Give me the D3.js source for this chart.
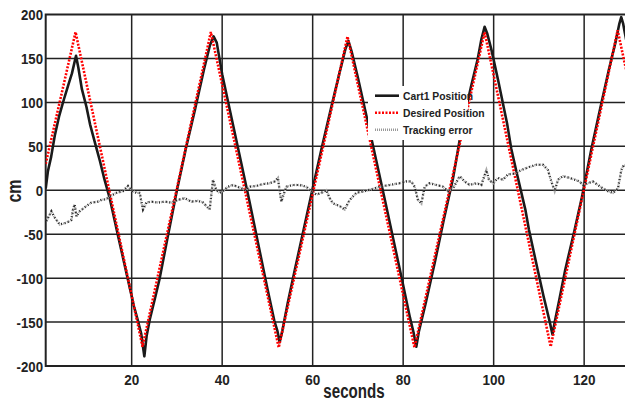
<!DOCTYPE html>
<html>
<head>
<meta charset="utf-8">
<script src="https://cdn.jsdelivr.net/npm/d3@7"></script>
<style>
  body { margin: 0; background: #fff; }
  svg { display: block; }
</style>
</head>
<body>
<div id="chart"></div>
<script>
  'use strict';

  const FONT_FAMILY = 'Liberation Sans, Arial, sans-serif';
  const WIDTH = 625;
  const HEIGHT = 405;

  // Desired position (triangle reference), read at its corners.
  const desiredTime = [1.0, 7.6, 22.4, 37.5, 52.5, 67.7, 82.5, 98.0, 112.6, 127.4, 128.9, 129.6];
  const desiredPos = [30, 180, -178, 180, -179, 175, -179, 180, -178, 182, 146, 130];

  // Cart1 position.
  const cartTime = [1.0, 1.5, 2.2, 3.0, 4.0, 5.0, 6.0, 6.8, 7.7, 8.2, 9.0, 10.0, 10.8, 12.0, 13.0, 14.0, 15.1,
    17.0, 19.1, 20.5, 21.3, 22.1, 22.8, 23.3, 24.0, 25.1, 26.2, 28.0, 30.0, 32.0, 34.0, 36.0, 37.3, 38.1,
    38.8, 40.0, 42.0, 44.0, 46.0, 48.0, 50.0, 51.5, 52.2, 52.7,
    53.3, 54.5, 56.0, 58.0, 60.0, 62.0, 64.0, 66.0, 67.2, 67.9,
    68.6, 70.0, 72.0, 74.0, 76.0, 78.0, 80.0, 81.5, 82.3, 82.9,
    83.5, 85.0, 87.0, 89.0, 91.0, 93.0, 95.0, 96.5, 97.3, 98.0,
    98.6, 99.5, 101.0, 103.0, 103.9, 105.0, 107.0, 107.8, 109.7, 111.0, 112.4, 113.0,
    113.5, 114.5, 115.8, 117.9, 119.5, 121.6, 123.5, 125.5, 127.0, 127.8, 128.2, 128.6, 129.0, 129.6];
  const cartPos = [2, 22, 38, 62, 85, 103, 120, 133, 153, 140, 115, 95, 75, 52, 33, 12, -8,
    -52, -100, -132, -147, -163, -189, -166, -147, -124, -100, -52, 0, 48, 92, 138, 165, 175,
    168, 132, 84, 36, -12, -62, -112, -148, -160, -173,
    -160, -128, -92, -45, 2, 48, 92, 135, 160, 170,
    158, 128, 82, 35, -12, -60, -108, -145, -162, -178,
    -160, -128, -82, -33, 13, 72, 118, 150, 172, 186,
    178, 160, 125, 75, 47, 22, -22, -45, -90, -120, -150, -164,
    -150, -125, -91, -45, -8, 47, 92, 138, 170, 190, 197, 190, 179, 163];

  // Tracking error.
  const errTime = [1.15, 2.25, 2.98, 4.09, 5.57, 6.67, 7.03, 7.40, 7.78, 8.51, 9.99, 11.09, 12.55, 13.30,
    14.41, 15.14, 16.62, 18.08, 19.18, 19.93, 21.04, 21.77, 22.50, 23.25, 24.35, 25.81, 27.29, 28.77,
    30.23, 31.71, 33.19, 34.65, 35.76, 36.51, 37.24, 37.97, 38.72, 39.45, 40.18, 41.28, 42.39, 43.87,
    45.35, 46.08, 47.56, 49.02, 50.50, 51.60, 52.33, 52.71, 53.08, 53.44, 54.19, 55.65, 57.13, 58.61,
    59.71, 60.82, 61.92, 63.03, 63.76, 64.49, 65.97, 67.07, 68.18, 69.66, 71.49, 72.97, 74.81, 77.02,
    79.23, 80.71, 81.81, 82.54, 83.27, 84.02, 84.75, 85.86, 87.34, 88.80, 89.90, 91.01, 92.49, 93.59,
    94.70, 96.18, 97.28, 98.39, 98.96, 99.85, 100.95, 102.06, 103.16, 104.64, 106.12, 107.58, 109.44,
    110.90, 112.00, 112.75, 113.48, 114.21, 115.31, 116.80, 117.90, 119.01, 119.73, 120.84, 121.94,
    123.05, 124.15, 125.26, 126.37, 127.47, 128.22, 128.80, 129.6];
  const errVal = [-35, -24, -31, -39, -37, -34, -22, -16, -30, -24, -18, -14, -13, -11,
    -10, -7, -3, -1, 5, 0, -3, -3, -22, -14, -13, -14, -13, -14,
    -11, -9, -13, -12, -14, -18, -22, 12, 0, -3, -1, 4, 6, 3,
    0, 4, 5, 7, 8, 10, 14, -1, -13, -7, 4, 6, 6, 4,
    -1, -5, -3, 0, -9, -15, -18, -22, -11, -3, -1, 1, 4, 6,
    8, 10, 10, 4, -11, -15, 4, 8, 6, 4, -1, 2, 16, 10,
    6, 8, 6, 23, 12, 8, 14, 12, 18, 19, 23, 26, 29,
    29, 23, 10, -1, 12, 16, 14, 12, 10, 6, 8, 10,
    6, 2, -1, -3, 2, 23, 29, 27];

  const xTicks = [20, 40, 60, 80, 100, 120];
  const yTicks = [-200, -150, -100, -50, 0, 50, 100, 150, 200];

  const legendLabels = ['Cart1 Position', 'Desired Position', 'Tracking error'];

  let margin = {top: 14.5, left: 45.7, bottom: 39};
  let plotRight = 629.4;

  let svg = d3.select('#chart')
    .append('svg')
    .attr('width', WIDTH)
    .attr('height', HEIGHT)
    .style('font-family', FONT_FAMILY);

  svg.append('rect')
    .attr('width', WIDTH)
    .attr('height', HEIGHT)
    .attr('fill', '#fff');

  let x = d3.scaleLinear()
    .domain([1, 130])
    .range([margin.left, plotRight]);

  let y = d3.scaleLinear()
    .domain([-200, 200])
    .range([HEIGHT - margin.bottom, margin.top]);

  svg.append('clipPath')
    .attr('id', 'plot-clip')
    .append('rect')
    .attr('x', x(1))
    .attr('y', y(200))
    .attr('width', plotRight - x(1))
    .attr('height', y(-200) - y(200));

  // Grid lines.
  let grid = svg.append('g')
    .attr('stroke', '#222')
    .attr('stroke-width', 1.5);

  grid.selectAll('line.vgrid')
    .data(xTicks)
    .enter()
    .append('line')
    .attr('x1', d => x(d))
    .attr('x2', d => x(d))
    .attr('y1', y(200))
    .attr('y2', y(-200));

  grid.selectAll('line.hgrid')
    .data(yTicks.filter(d => Math.abs(d) < 200))
    .enter()
    .append('line')
    .attr('x1', x(1))
    .attr('x2', plotRight)
    .attr('y1', d => y(d))
    .attr('y2', d => y(d));

  // Frame.
  svg.append('rect')
    .attr('x', x(1))
    .attr('y', y(200))
    .attr('width', plotRight - x(1))
    .attr('height', y(-200) - y(200))
    .attr('fill', 'none')
    .attr('stroke', '#222')
    .attr('stroke-width', 2);

  // Tick labels.
  svg.selectAll('text.ytick')
    .data(yTicks)
    .enter()
    .append('text')
    .attr('transform', d => 'translate(43,' + (y(d) + 5.5) + ') scale(0.88,1)')
    .attr('text-anchor', 'end')
    .style('font-size', '15px')
    .style('font-weight', 'bold')
    .attr('fill', '#222')
    .text(d => d);

  svg.selectAll('text.xtick')
    .data(xTicks)
    .enter()
    .append('text')
    .attr('transform', d => 'translate(' + x(d) + ',385) scale(0.9,1)')
    .attr('text-anchor', 'middle')
    .style('font-size', '15px')
    .style('font-weight', 'bold')
    .attr('fill', '#222')
    .text(d => d);

  // Axis titles.
  svg.append('text')
    .attr('transform', 'translate(354,398) scale(0.72,1)')
    .attr('text-anchor', 'middle')
    .style('font-size', '21px')
    .style('font-weight', 'bold')
    .attr('fill', '#222')
    .text('seconds');

  svg.append('text')
    .attr('transform', 'translate(21,191) rotate(-90) scale(0.8,1)')
    .attr('text-anchor', 'middle')
    .style('font-size', '20px')
    .style('font-weight', 'bold')
    .attr('fill', '#222')
    .text('cm');

  // Lines.
  let plot = svg.append('g')
    .attr('clip-path', 'url(#plot-clip)');

  let line = d3.line()
    .x(d => x(d[0]))
    .y(d => y(d[1]));

  plot.append('path')
    .datum(d3.zip(cartTime, cartPos))
    .attr('d', line)
    .attr('fill', 'none')
    .attr('stroke', '#1a1a1a')
    .attr('stroke-width', 2.6)
    .attr('stroke-linejoin', 'round');

  plot.append('path')
    .datum(d3.zip(desiredTime, desiredPos))
    .attr('d', line)
    .attr('fill', 'none')
    .attr('stroke', '#f00')
    .attr('stroke-width', 2.6)
    .attr('stroke-dasharray', '2,1.5');

  // Tracking error: grey base with dark dots on top.
  let errData = d3.zip(errTime, errVal);
  plot.append('path')
    .datum(errData)
    .attr('d', line)
    .attr('fill', 'none')
    .attr('stroke', '#aaa')
    .attr('stroke-width', 2.4)
    .attr('stroke-dasharray', '1,1');

  plot.append('path')
    .datum(errData)
    .attr('d', line)
    .attr('fill', 'none')
    .attr('stroke', '#222')
    .attr('stroke-width', 2.2)
    .attr('stroke-dasharray', '1,2.5');

  // Legend.
  let legend = svg.append('g');

  legend.append('rect')
    .attr('x', 368)
    .attr('y', 86)
    .attr('width', 100)
    .attr('height', 54)
    .attr('fill', '#fff');

  let legendStyles = [
    {stroke: '#1a1a1a', dash: null},
    {stroke: '#f00', dash: '2,1.5'},
    {stroke: '#999', dash: '1,1'}
  ];

  legendLabels.forEach(function (label, i) {
    let ly = 95.7 + i * 17;
    legend.append('line')
      .attr('x1', 375)
      .attr('x2', 399)
      .attr('y1', ly)
      .attr('y2', ly)
      .attr('stroke', legendStyles[i].stroke)
      .attr('stroke-width', 2.6)
      .attr('stroke-dasharray', legendStyles[i].dash);
    legend.append('text')
      .attr('transform', 'translate(403,' + (ly + 4.5) + ') scale(0.9,1)')
      .style('font-size', '11.5px')
      .style('font-weight', 'bold')
      .attr('fill', '#222')
      .text(label);
  });
</script>
</body>
</html>
